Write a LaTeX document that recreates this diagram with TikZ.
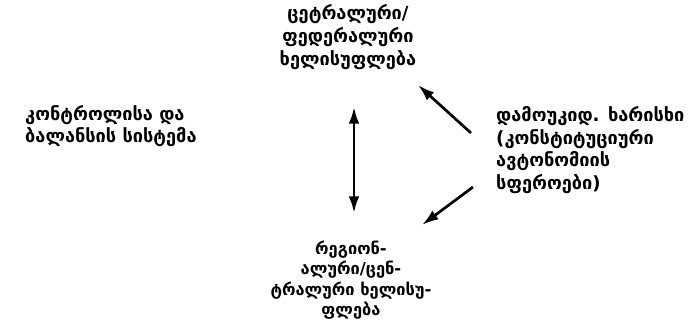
\documentclass[tikz,border=0pt]{standalone}
\usepackage{fontspec}
\usepackage{tikz}
\usetikzlibrary{arrows.meta}
\newfontfamily\geofont{DejaVu Sans}

\tikzset{
  geotext/.style={font=\geofont\bfseries\fontsize{15.5}{19.5}\selectfont, align=left, inner sep=0pt},
  thickarrow/.style={line width=2.3pt, -{Latex[length=5mm,width=3.2mm]}}
}

\begin{document}
\begin{tikzpicture}[x=0.03cm, y=-0.03cm]
\useasboundingbox (0,0) rectangle (690,323);
\node[geotext, align=center] (centre) at (348,37) {ცეტრალური/\\ფედერალური\\ხელისუფლება};
\node[geotext, anchor=west] (checks) at (25,126) {კონტროლისა და\\ბალანსის სისტემა};
\node[geotext, anchor=west] (autonomy) at (496,150) {დამოუკიდ. ხარისხი\\(კონსტიტუციური\\ავტონომიის\\სფეროები)};
\node[geotext, align=center, font=\geofont\bfseries\fontsize{14}{17.5}\selectfont] (region) at (351,280) {რეგიონ-\\ალური/ცენ-\\ტრალური ხელისუ-\\ფლება};
\coordinate (vtop) at (354,107);
\coordinate (vbot) at (354,213);
\coordinate (a1s) at (471,133);
\coordinate (a1e) at (418,85);
\coordinate (a2s) at (473,187);
\coordinate (a2e) at (422,225);
\draw[thickarrow, {Latex[length=5mm,width=3.2mm]}-{Latex[length=5mm,width=3.2mm]}] (vtop) -- (vbot);
\draw[thickarrow] (a1s) -- (a1e);
\draw[thickarrow] (a2s) -- (a2e);
\end{tikzpicture}
\end{document}
